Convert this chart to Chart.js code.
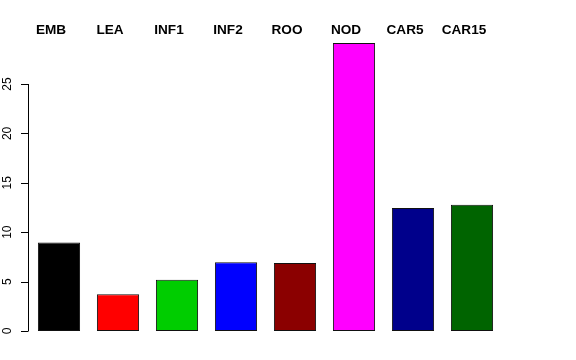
<!DOCTYPE html>
<html>
<head>
<meta charset="utf-8">
<script src="https://cdn.jsdelivr.net/npm/chart.js@4"></script>
<style>
  html, body { margin: 0; padding: 0; background: #fff; }
  #wrap { width: 576px; height: 360px; }
</style>
</head>
<body>
<div id="wrap"><canvas id="chart" width="576" height="360"></canvas></div>
<script>
const categories = ['EMB', 'LEA', 'INF1', 'INF2', 'ROO', 'NOD', 'CAR5', 'CAR15'];
const values = [8.95, 3.71, 5.19, 6.95, 6.88, 29.15, 12.45, 12.78];
const barColors = ['#000000', '#FF0000', '#00CD00', '#0000FF', '#8B0000', '#FF00FF', '#00008B', '#006400'];
const yTicks = [0, 5, 10, 15, 20, 25];

// R-style axis and top labels drawn from the chart's own scales
const rStyle = {
  id: 'rStyle',
  afterDraw(chart) {
    const ctx = chart.ctx;
    const x = chart.scales.x;
    const y = chart.scales.y;
    const axisX = 28;
    ctx.save();
    ctx.strokeStyle = '#000';
    ctx.lineWidth = 1;
    ctx.beginPath();
    ctx.moveTo(axisX + 0.5, y.getPixelForValue(yTicks[0]));
    ctx.lineTo(axisX + 0.5, y.getPixelForValue(yTicks[yTicks.length - 1]));
    yTicks.forEach(t => {
      const py = Math.round(y.getPixelForValue(t)) + 0.5;
      ctx.moveTo(axisX - 7, py);
      ctx.lineTo(axisX + 0.5, py);
    });
    ctx.stroke();

    ctx.fillStyle = '#000';
    ctx.font = '12px "Liberation Sans", Arial, sans-serif';
    ctx.textAlign = 'center';
    ctx.textBaseline = 'middle';
    yTicks.forEach(t => {
      ctx.save();
      ctx.translate(8, y.getPixelForValue(t));
      ctx.rotate(-Math.PI / 2);
      ctx.fillText(String(t), 0, 0);
      ctx.restore();
    });

    ctx.font = 'bold 13.6px "Liberation Sans", Arial, sans-serif';
    categories.forEach((c, i) => {
      ctx.fillText(c, x.getPixelForValue(i) - 8, 30);
    });
    ctx.restore();
  }
};

new Chart(document.getElementById('chart'), {
  type: 'bar',
  data: {
    labels: categories,
    datasets: [{
      data: values,
      backgroundColor: barColors,
      borderColor: '#111',
      borderWidth: { top: 1, right: 1, bottom: 1, left: 1 },
      borderSkipped: false,
      categoryPercentage: 1,
      barPercentage: 0.715
    }]
  },
  options: {
    responsive: false,
    animation: false,
    layout: { padding: { left: 29.5, right: 74.5, top: 34.6, bottom: 29 } },
    plugins: { legend: { display: false }, tooltip: { enabled: false } },
    scales: {
      x: { display: false, offset: true },
      y: { display: false, min: 0, max: 30 }
    }
  },
  plugins: [rStyle]
});
</script>
</body>
</html>
